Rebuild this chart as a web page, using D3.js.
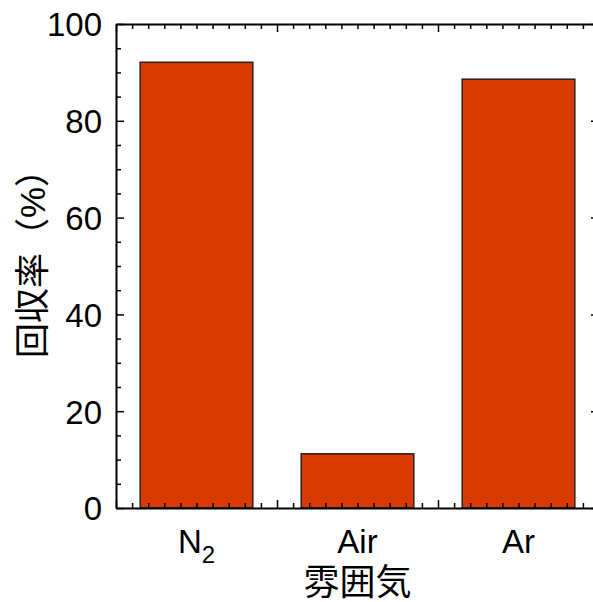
<!DOCTYPE html>
<html>
<head>
<meta charset="utf-8">
<script src="https://cdn.jsdelivr.net/npm/d3@7"></script>
<style>
  html, body { margin: 0; padding: 0; background: #fff; overflow: hidden; }
  svg { display: block; }
  .tick text { font-family: "Liberation Sans", Arial, sans-serif; }
</style>
</head>
<body>
<svg id="chart" width="593" height="602"></svg>
<script>
// Recovery rate by atmosphere
const categories = ["N2", "Air", "Ar"];
const recovery = [92.1, 11.2, 88.6];
const yTicks = [0, 20, 40, 60, 80, 100];

const svg = d3.select("#chart");
const plotLeft = 116, plotRight = 599, plotTop = 24, plotBottom = 508;

// numeric x positions: each category occupies one unit, bar centred in it
const x = d3.scaleLinear().domain([0, 3]).range([plotLeft, plotRight]);
const y = d3.scaleLinear().domain([0, 100]).range([plotBottom, plotTop]);
const barW = 0.7;

// bars
svg.append("g").selectAll("rect")
  .data(recovery)
  .join("rect")
  .attr("x", (d, i) => x(i + 0.5 - barW / 2))
  .attr("width", (d, i) => x(i + 0.5 + barW / 2) - x(i + 0.5 - barW / 2))
  .attr("y", d => y(d))
  .attr("height", d => y(0) - y(d))
  .attr("fill", "#d83a00")
  .attr("stroke", "#1a1a1a")
  .attr("stroke-width", 1.4);

const majorLen = 8, minorLen = 5;
const xMinor = d3.range(0, 31).map(d => d / 10).filter(d => Math.abs(d - Math.round(d)) > 1e-6);
const yMinor = d3.range(0, 101, 5).filter(d => d % 20 !== 0);

function styleAxis(g) {
  g.select(".domain").attr("stroke", "#000").attr("stroke-width", 2);
  g.selectAll(".tick line").attr("stroke", "#000").attr("stroke-width", 1.5);
}

// bottom axis: major + minor ticks, no labels
svg.append("g").attr("transform", `translate(0,${plotBottom})`)
  .call(d3.axisBottom(x).tickValues([0, 1, 2, 3]).tickSizeInner(-majorLen).tickSizeOuter(0).tickFormat(""))
  .call(styleAxis);
svg.append("g").attr("transform", `translate(0,${plotBottom})`)
  .call(d3.axisBottom(x).tickValues(xMinor).tickSizeInner(-minorLen).tickSizeOuter(0).tickFormat(""))
  .call(g => g.select(".domain").remove())
  .call(styleAxis);

// top axis
svg.append("g").attr("transform", `translate(0,${plotTop})`)
  .call(d3.axisTop(x).tickValues([0, 1, 2, 3]).tickSizeInner(-majorLen).tickSizeOuter(0).tickFormat(""))
  .call(styleAxis);
svg.append("g").attr("transform", `translate(0,${plotTop})`)
  .call(d3.axisTop(x).tickValues(xMinor).tickSizeInner(-minorLen).tickSizeOuter(0).tickFormat(""))
  .call(g => g.select(".domain").remove())
  .call(styleAxis);

// left axis with labels
svg.append("g").attr("transform", `translate(${plotLeft},0)`)
  .call(d3.axisLeft(y).tickValues(yTicks).tickSizeInner(-majorLen).tickSizeOuter(0).tickPadding(14).tickFormat(d3.format("d")))
  .call(styleAxis)
  .call(g => g.selectAll(".tick text").attr("font-size", 33).attr("fill", "#000").attr("dy", "0.36em"));
svg.append("g").attr("transform", `translate(${plotLeft},0)`)
  .call(d3.axisLeft(y).tickValues(yMinor).tickSizeInner(-minorLen).tickSizeOuter(0).tickFormat(""))
  .call(g => g.select(".domain").remove())
  .call(styleAxis);

// right axis
svg.append("g").attr("transform", `translate(${plotRight},0)`)
  .call(d3.axisRight(y).tickValues(yTicks).tickSizeInner(-majorLen).tickSizeOuter(0).tickFormat(""))
  .call(styleAxis);
svg.append("g").attr("transform", `translate(${plotRight},0)`)
  .call(d3.axisRight(y).tickValues(yMinor).tickSizeInner(-minorLen).tickSizeOuter(0).tickFormat(""))
  .call(g => g.select(".domain").remove())
  .call(styleAxis);

// category labels (N2 with subscript)
const catG = svg.append("g")
  .attr("font-family", "'Liberation Sans', Arial, sans-serif")
  .attr("font-size", 33)
  .attr("fill", "#000");
categories.forEach((c, i) => {
  const t = catG.append("text")
    .attr("x", x(i + 0.5))
    .attr("y", 553)
    .attr("text-anchor", "middle");
  const m = c.match(/^([A-Za-z]+)(\d+)$/);
  if (m) {
    t.append("tspan").text(m[1]);
    t.append("tspan").attr("font-size", 24).attr("dy", 10).text(m[2]);
  } else {
    t.text(c);
  }
});

// axis titles
svg.append("text")
  .attr("x", x(1.5))
  .attr("y", 595)
  .attr("text-anchor", "middle")
  .attr("font-family", "'Noto Sans CJK JP', sans-serif")
  .attr("font-size", 36)
  .attr("fill", "#000")
  .text("雰囲気");

svg.append("text")
  .attr("transform", "translate(45,255) rotate(-90)")
  .attr("text-anchor", "middle")
  .attr("font-family", "'Liberation Sans', 'Noto Sans CJK JP', sans-serif")
  .attr("font-size", 35)
  .attr("fill", "#000")
  .text("回収率（%）");
</script>
</body>
</html>
